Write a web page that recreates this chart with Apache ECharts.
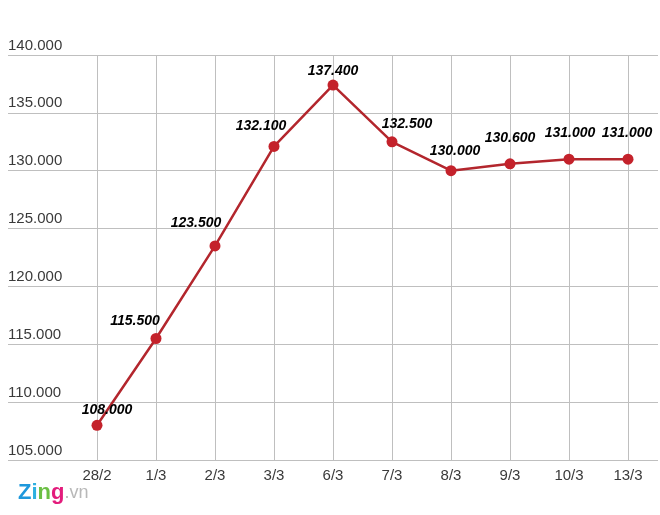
<!DOCTYPE html>
<html>
<head>
<meta charset="utf-8">
<script src="https://cdn.jsdelivr.net/npm/echarts@6/dist/echarts.min.js"></script>
<style>
html,body{margin:0;padding:0;background:#fff;}
#chart{width:660px;height:515px;}
</style>
</head>
<body>
<div id="chart"></div>
<script>
var categories = ['28/2', '1/3', '2/3', '3/3', '6/3', '7/3', '8/3', '9/3', '10/3', '13/3'];
var prices = [108000, 115500, 123500, 132100, 137400, 132500, 130000, 130600, 131000, 131000];
var yTicks = [105000, 110000, 115000, 120000, 125000, 130000, 135000, 140000];
// label offsets (styling only), [dx, dy] relative to each point
var labelOffsets = [[10,-15],[-21,-17],[-19,-23],[-13,-20],[0,-14],[15,-18],[4,-20],[0,-26],[1,-26],[-1,-26]];

function fmt(v){ return (v/1000).toFixed(3); }

var chart = echarts.init(document.getElementById('chart'), null, {renderer:'canvas'});
var yMin = yTicks[0], yMax = yTicks[yTicks.length-1], yStep = yTicks[1]-yTicks[0];
var font = '"Liberation Sans", Arial, Helvetica, sans-serif';

chart.setOption({
  animation:false,
  backgroundColor:'#ffffff',
  grid:[
    {left:8, right:2, top:55, bottom:55},
    {left:97, right:32, top:55, bottom:55}
  ],
  xAxis:[
    {type:'value', gridIndex:0, show:false, min:0, max:1},
    {type:'category', gridIndex:1, data:categories, boundaryGap:false,
     axisLine:{show:false}, axisTick:{show:false},
     splitLine:{show:true, interval:0, lineStyle:{color:'#bfbfbf', width:1}},
     axisLabel:{interval:0, margin:8, color:'#3a3a3a', fontSize:15, fontFamily:font}}
  ],
  yAxis:[
    {type:'value', gridIndex:0, min:yMin, max:yMax, interval:yStep,
     axisLine:{show:false}, axisTick:{show:false},
     splitLine:{show:true, lineStyle:{color:'#bfbfbf', width:1}},
     axisLabel:{inside:true, margin:0, align:'left', verticalAlign:'bottom', padding:[0,0,2,0],
       color:'#3a3a3a', fontSize:15, fontFamily:font, formatter:function(v){return fmt(v);}}},
    {type:'value', gridIndex:1, min:yMin, max:yMax, interval:yStep, show:false, splitLine:{show:false}}
  ],
  series:[{
    type:'line', xAxisIndex:1, yAxisIndex:1,
    data: prices.map(function(v,i){ return {value:v, label:{offset:labelOffsets[i]}}; }),
    symbol:'circle', symbolSize:11,
    lineStyle:{color:'#b3262d', width:2.5},
    itemStyle:{color:'#c4222b'},
    label:{show:true, position:'inside', color:'#000', fontSize:14, fontWeight:'bold', fontStyle:'italic',
      fontFamily:font, formatter:function(p){return fmt(p.value);}}
  }],
  graphic:[{
    type:'text', left:18, top:482,
    style:{
      rich:{
        z:{fill:'#1e98dc', fontSize:22, fontWeight:'bold', fontFamily:font},
        i:{fill:'#2eb0e0', fontSize:22, fontWeight:'bold', fontFamily:font},
        n:{fill:'#6bbf44', fontSize:22, fontWeight:'bold', fontFamily:font},
        g:{fill:'#e31c7c', fontSize:22, fontWeight:'bold', fontFamily:font},
        v:{fill:'#b8b8b8', fontSize:18, fontFamily:font}
      },
      text:'{z|Z}{i|i}{n|n}{g|g}{v|.vn}'
    }
  }]
});
</script>
</body>
</html>
